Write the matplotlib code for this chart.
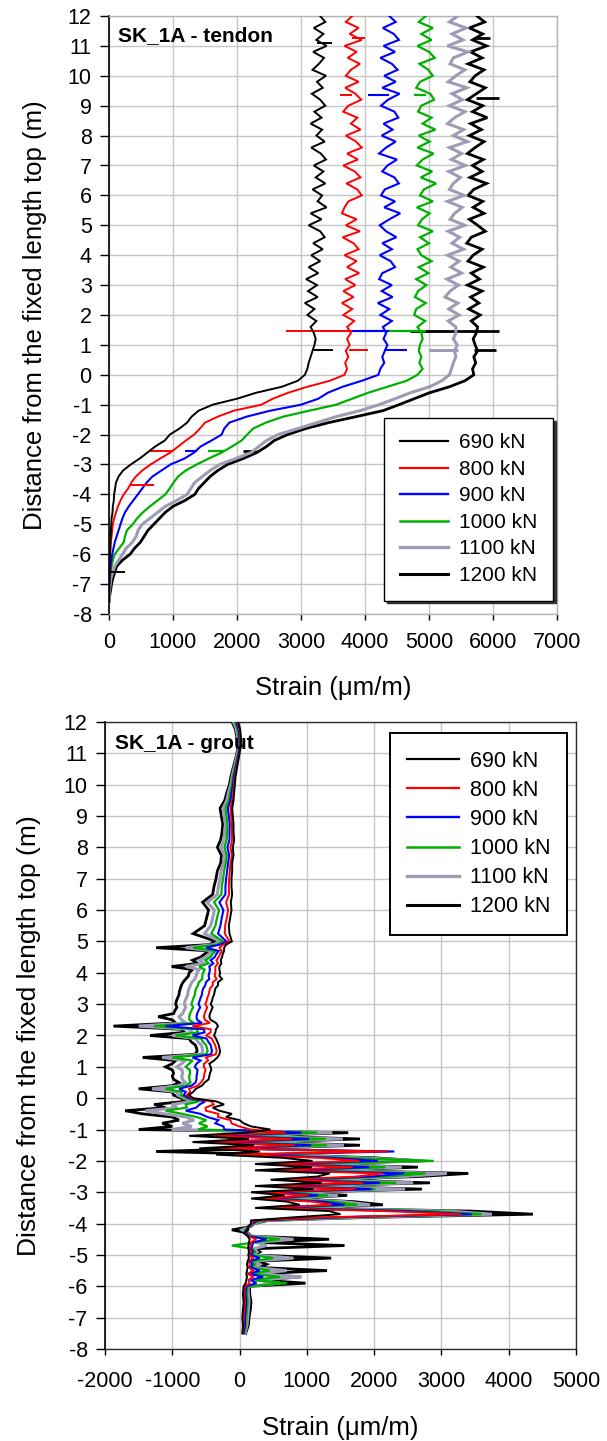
import numpy as np
import matplotlib
matplotlib.use('Agg')
import matplotlib.pyplot as plt
from matplotlib.lines import Line2D

plt.rcParams['font.family'] = ['Liberation Sans', 'DejaVu Sans']
plt.rcParams['axes.unicode_minus'] = False

loads = ['690 kN', '800 kN', '900 kN', '1000 kN', '1100 kN', '1200 kN']
colors = ['#000000', '#ff0000', '#0000ff', '#00b000', '#9c9cb4', '#000000']
widths = [1.4, 1.4, 1.5, 1.6, 2.2, 2.0]

# ---------------- tendon (top) : depth 12.0 .. -7.6 every 0.2 m ----------------
depth_tendon = np.linspace(12.0, -7.6, 99)

tendon_690 = [
    3300, 3380, 3200, 3350, 3240, 3400, 3190, 3360, 3280, 3180,
    3390, 3250, 3340, 3170, 3300, 3380, 3210, 3320, 3150, 3330,
    3240, 3370, 3160, 3310, 3390, 3200, 3350, 3230, 3380, 3180,
    3330, 3260, 3400, 3150, 3320, 3120, 3300, 3370, 3190, 3340,
    3160, 3300, 3120, 3270, 3080, 3250, 3110, 3260, 3060, 3210,
    3100, 3240, 3150,
    3200, 3230, 3210, 3180, 3150, 3120, 3100, 3060,
    2950, 2700, 2300, 2000, 1620, 1400, 1290, 1220, 1100, 950,
    870, 720, 600, 480, 340, 220, 150, 110, 95, 80,
    75, 60, 55, 40, 35, 30, 25, 20, 18, 15,
    12, 10, 8, 5, 3, 2, 0, 0]
tendon_800 = [
    3800, 3700, 3900, 3760, 3950, 3680, 3870, 3730, 3920, 3780,
    3700, 3900, 3690, 3850, 3940, 3740, 3660, 3880, 3780, 3930,
    3700, 3860, 3950, 3720, 3890, 3660, 3840, 3930, 3710, 3880,
    3950, 3740, 3680, 3640, 3870, 3700, 3920, 3650, 3820, 3900,
    3680, 3870, 3720, 3910, 3690, 3850, 3660, 3820, 3640, 3800,
    3660, 3830, 3720,
    3780, 3720, 3760, 3700, 3740, 3690, 3720, 3680,
    3450, 3100, 2800, 2560, 2380, 1950, 1700, 1500, 1420, 1330,
    1200, 1080, 960, 800, 650, 520, 420, 350, 300, 230,
    180, 140, 110, 80, 60, 50, 40, 30, 25, 18,
    12, 8, 5, 4, 2, 0, 0, 0]
tendon_900 = [
    4380, 4480, 4280, 4450, 4530, 4290, 4470, 4240, 4420, 4510,
    4300, 4480, 4270, 4540, 4360, 4250, 4460, 4520, 4290, 4430,
    4260, 4480, 4330, 4220, 4500, 4350, 4270, 4460, 4530, 4310,
    4250, 4470, 4300, 4550, 4380, 4230, 4330, 4490, 4270, 4420,
    4230, 4400, 4470, 4270, 4220, 4420, 4260, 4430, 4200, 4380,
    4240, 4420, 4280,
    4330, 4290, 4350, 4310, 4270, 4300, 4240, 4210,
    3950, 3650, 3420, 3270, 3000, 2520, 2150, 1880, 1800, 1760,
    1600, 1430, 1330, 1180, 960, 820, 680, 590, 520, 450,
    380, 310, 250, 210, 180, 150, 120, 90, 70, 50,
    35, 25, 15, 10, 5, 2, 0, 0]
tendon_1000 = [
    4950, 4840, 5060, 4880, 5040, 4820, 5000, 5090, 4850, 4990,
    5060, 4860, 4800, 5020, 5080, 4880, 4830, 5040, 4900, 5100,
    4840, 5010, 4820, 5070, 4900, 4810, 5050, 4870, 5110, 4920,
    4860, 5060, 4810, 5010, 4890, 4830, 5060, 4860, 5000, 4820,
    4880, 5040, 4840, 4990, 4800, 4960, 4830, 4780, 4950, 4800,
    4770, 4940, 4820,
    4880, 4900, 4860, 4840, 4880, 4850, 4900, 4820,
    4650, 4350, 4050, 3800, 3550, 3130, 2720, 2450, 2250, 2160,
    2070, 1920, 1760, 1560, 1370, 1200, 1080, 1010, 950, 880,
    760, 640, 530, 440, 370, 280, 250, 230, 160, 90,
    60, 40, 25, 15, 8, 3, 0, 0]
tendon_1100 = [
    5450, 5320, 5580, 5360, 5530, 5290, 5610, 5380, 5330, 5560,
    5420, 5300, 5590, 5360, 5520, 5320, 5560, 5400, 5290, 5540,
    5380, 5600, 5320, 5510, 5350, 5570, 5310, 5490, 5380, 5320,
    5550, 5290, 5520, 5400, 5330, 5560, 5300, 5480, 5360, 5540,
    5290, 5470, 5340, 5510, 5280, 5460, 5330, 5250, 5450, 5310,
    5470, 5300, 5420,
    5420, 5380, 5440, 5400, 5420, 5380, 5350, 5320,
    5200, 5010, 4710, 4470, 4220, 3920, 3550, 3250, 2950, 2640,
    2460, 2340, 2220, 1980, 1730, 1580, 1460, 1340, 1280, 1220,
    1060, 880, 760, 640, 520, 455, 425, 365, 270, 210,
    150, 90, 60, 30, 18, 8, 2, 0]
tendon_1200 = [
    5750, 5870, 5630, 5840, 5680, 5900, 5650, 5830, 5610, 5860,
    5720, 5640, 5880, 5740, 5600, 5840, 5680, 5910, 5650, 5820,
    5630, 5860, 5720, 5600, 5850, 5680, 5830, 5640, 5900, 5700,
    5610, 5840, 5690, 5860, 5630, 5760, 5880, 5660, 5590, 5830,
    5690, 5610, 5850, 5660, 5790, 5600, 5830, 5650, 5780, 5620,
    5800, 5660, 5760,
    5740, 5690, 5720, 5760, 5700, 5730, 5680, 5700,
    5560, 5320, 5010, 4770, 4530, 4280, 3860, 3430, 3070, 2790,
    2580, 2460, 2310, 2100, 1850, 1700, 1580, 1490, 1400, 1340,
    1190, 1000, 880, 790, 700, 610, 550, 490, 400, 330,
    210, 120, 90, 60, 40, 25, 10, 0]

# short horizontal spikes: (series index, depth, strain from, strain to)
tendon_spikes = [
    (1, 9.35, 3610, 3800), (2, 9.35, 4040, 4370), (3, 9.35, 4770, 4950),
    (5, 9.27, 5740, 6100), (1, 11.25, 3800, 4000), (5, 11.25, 5700, 5950),
    (0, 11.1, 3250, 3490),
    (1, 1.45, 2770, 3800), (2, 1.45, 3310, 4370), (3, 1.45, 3920, 4950),
    (5, 1.45, 4700, 6100),
    (0, 0.83, 3200, 3500), (1, 0.83, 3750, 4040), (2, 0.83, 4300, 4650),
    (4, 0.83, 5000, 5450), (5, 0.83, 5700, 6050),
    (1, -2.55, 640, 1000), (2, -2.55, 1180, 1380), (3, -2.55, 1550, 1800),
    (5, -2.55, 2100, 2300), (1, -3.7, 330, 700), (0, -6.6, 0, 250),
]

# ---------------- grout (bottom) ----------------
depth_grout = np.concatenate([np.linspace(12.0, 5.25, 28),
                              np.linspace(5.0, -6.0, 111),
                              np.linspace(-6.25, -7.5, 6)])

grout_690 = [
    -20, 10, 20, 20, 0, -20, -40, -60, -70, -80,
    -90, -110, -100, -90, -90, -80, -100, -90, -110, -110,
    -120, -120, -110, -130, -120, -140, -160, -150,
    -115, -200, -230, -230, -250, -260, -280, -270, -300, -300,
    -290, -300, -260, -320, -320, -360, -370, -380, -400, -410,
    -430, -400, -420, -440, -450, -430, -350, -320, -350, -360,
    -380, -350, -330, -310, -300, -290, -300, -330, -380, -450,
    -430, -420, -440, -450, -460, -520, -560, -650, -690, -750,
    -690, -350, -230, -400, -300, -115, -200, 0, 60, 170,
    460, 110, -750, 140, -700, 217, -600, 300, -350, 635,
    1085, 230, 1077, 230, 1340, 1155, 460, 1220, 230, 1100,
    170, 670, 170, 705, 895, 230, 1330, 1500, 800, 170,
    170, 120, 130, 60, 120, 150, 140, 130, 130, 140,
    130, 140, 120, 110, 120, 110, 100, 110, 100, 90, 60,
    50, 60, 50, 40, 50, 40]
grout_800 = [
    -35, 0, 10, 15, -5, -28, -50, -70, -82, -95,
    -110, -135, -125, -115, -115, -110, -135, -115, -135, -145,
    -155, -160, -155, -200, -170, -190, -215, -220,
    -150, -240, -300, -265, -290, -310, -345, -320, -360, -360,
    -360, -370, -340, -400, -400, -440, -450, -460, -480, -490,
    -510, -480, -500, -520, -530, -515, -440, -700, -430, -430,
    -500, -410, -390, -365, -350, -340, -355, -500, -465, -530,
    -530, -505, -520, -530, -540, -575, -625, -750, -735, -785,
    -715, -420, -385, -505, -500, -315, -320, -135, -120, -5,
    165, 690, -550, 775, -500, 820, -420, 2200, -150, 1160,
    1780, 400, 1680, 450, 2130, 1730, 620, 1840, 380, 1720,
    300, 1030, 280, 1090, 1370, 350, 2140, 3300, 1240, 220,
    180, 130, 120, 80, 130, 250, 170, 160, 150, 170,
    145, 200, 140, 150, 140, 200, 120, 200, 130, 150, 80,
    70, 80, 70, 60, 60, 50]
grout_900 = [
    -50, -15, 0, 5, -15, -38, -60, -85, -98, -120,
    -135, -175, -160, -145, -150, -150, -180, -155, -170, -185,
    -200, -210, -210, -300, -240, -265, -285, -320,
    -195, -290, -500, -310, -345, -370, -430, -390, -450, -440,
    -450, -460, -450, -500, -510, -540, -555, -560, -580, -595,
    -610, -585, -610, -630, -640, -630, -560, -1100, -530, -520,
    -700, -490, -465, -430, -420, -410, -425, -700, -580, -640,
    -665, -625, -630, -640, -640, -655, -715, -900, -800, -830,
    -750, -510, -595, -645, -800, -580, -480, -315, -360, -240,
    -225, 920, -350, 1030, -300, 1065, -240, 2300, 50, 1370,
    2055, 570, 1925, 670, 2450, 1960, 780, 2085, 530, 1965,
    430, 1170, 390, 1240, 1560, 470, 2460, 3450, 1420, 270,
    190, 140, 100, 100, 140, 400, 200, 190, 170, 200,
    160, 300, 160, 190, 160, 300, 140, 350, 160, 250, 100,
    90, 100, 90, 80, 80, 60]
grout_1000 = [
    -70, -30, -15, -2, -20, -48, -75, -100, -115, -140,
    -160, -210, -195, -180, -185, -190, -225, -190, -205, -230,
    -245, -265, -270, -380, -305, -335, -360, -420,
    -245, -340, -690, -355, -400, -435, -510, -460, -600, -520,
    -540, -555, -555, -605, -620, -645, -660, -665, -685, -700,
    -715, -690, -715, -735, -750, -745, -680, -1270, -635, -615,
    -950, -570, -545, -500, -485, -475, -500, -1000, -695, -750,
    -800, -740, -735, -750, -745, -730, -800, -1100, -860, -875,
    -790, -600, -800, -785, -1100, -845, -640, -495, -605, -475,
    -620, 1150, -150, 1280, -100, 1300, -60, 1900, 250, 1580,
    2885, 740, 2170, 890, 2765, 2190, 940, 2330, 680, 2020,
    560, 1315, 500, 1395, 1750, 590, 2830, 3600, 1600, 320,
    200, 150, 80, 110, 150, 600, 220, -115, 190, 230,
    175, 500, 180, 230, 180, 450, 160, 600, 190, 700, 120,
    110, 120, 110, 100, 95, 70]
grout_1100 = [
    -90, -45, -25, -10, -30, -58, -85, -112, -130, -165,
    -190, -245, -230, -210, -220, -230, -275, -225, -240, -275,
    -290, -315, -330, -480, -375, -400, -430, -520,
    -290, -390, -800, -400, -450, -500, -595, -530, -800, -600,
    -635, -645, -665, -710, -730, -750, -765, -770, -790, -810,
    -820, -800, -825, -845, -900, -860, -800, -1500, -740, -705,
    -1000, -650, -620, -570, -555, -545, -570, -1150, -810, -860,
    -935, -855, -845, -860, -850, -805, -890, -1300, -920, -920,
    -825, -690, -1010, -925, -1400, -1110, -800, -675, -850, -710,
    -1010, 1380, 50, 1535, 100, 1550, 120, 1600, 450, 1790,
    2760, 910, 2410, 1110, 3080, 2420, 1100, 2580, 830, 2460,
    690, 1460, 610, 1550, 1940, 710, 3100, 3750, 1780, 370,
    210, 150, 40, 120, 160, 800, 240, 400, 210, 260,
    190, 800, 200, 300, 220, 700, 200, 925, 230, 600, 130,
    130, 140, 130, 120, 110, 80]
grout_1200 = [
    -110, -60, -40, -20, -40, -70, -100, -130, -150, -190,
    -220, -290, -270, -250, -260, -280, -330, -270, -280, -330,
    -350, -380, -400, -550, -460, -490, -520, -690,
    -350, -450, -1240, -460, -520, -580, -700, -620, -1010, -700,
    -750, -760, -800, -840, -865, -880, -895, -900, -920, -940,
    -950, -930, -960, -980, -1210, -1000, -950, -1875, -870, -820,
    -1330, -750, -720, -660, -640, -630, -660, -1440, -950, -1000,
    -1100, -1000, -980, -1000, -980, -900, -1000, -1500, -1000, -980,
    -870, -800, -1270, -1100, -1700, -1440, -1000, -900, -1150, -1000,
    -1500, 1615, 250, 1790, 300, 1790, 300, -1240, 650, 2000,
    2700, 1080, 2650, 1330, 3400, 2650, 1260, 2830, 980, 2710,
    820, 1600, 720, 1700, 2130, 830, 3430, 4360, 1960, 420,
    220, 160, -115, 130, 170, 1330, 260, 1560, 230, 300,
    200, 1360, 250, 400, 300, 1300, 250, 900, 300, 980, 150,
    150, 170, 160, 140, 130, 90]

tendon = [tendon_690, tendon_800, tendon_900, tendon_1000, tendon_1100, tendon_1200]
grout = [grout_690, grout_800, grout_900, grout_1000, grout_1100, grout_1200]

W, H = 607, 1441
fig = plt.figure(figsize=(W / 100, H / 100), dpi=100)
fig.patch.set_facecolor('white')
ax1 = fig.add_axes([109 / W, 1 - 614 / H, 448 / W, 598 / H])
ax2 = fig.add_axes([105 / W, 1 - 1349 / H, 471 / W, 627 / H])


def draw(ax, depth, series, spikes):
    for k in reversed(range(6)):
        ax.plot(series[k], depth, color=colors[k], lw=widths[k],
                zorder=3 + (5 - k), solid_joinstyle='miter')
    for k, d, lo, hi in spikes:
        ax.hlines(d, lo, hi, color=colors[k], lw=widths[k], zorder=3 + (5 - k))


def style(ax, xlim, xticks, frame_col, ylabel_x, label_fs, xpad):
    ax.set_xlim(*xlim)
    ax.set_ylim(-8, 12)
    ax.set_xticks(xticks)
    ax.set_yticks(range(-8, 13))
    ax.grid(True, color='#c6c6c6', lw=1.0)
    ax.set_axisbelow(True)
    for s in ['top', 'right', 'bottom']:
        ax.spines[s].set_color(frame_col)
        ax.spines[s].set_linewidth(1.0)
    ax.spines['left'].set_color('black')
    ax.spines['left'].set_linewidth(1.2)
    ax.tick_params(axis='y', direction='out', length=6.5, width=1.0,
                   pad=6, labelsize=15.5, color='black')
    ax.tick_params(axis='x', direction='out', length=4, width=1.0,
                   pad=xpad, labelsize=15.5, color='black')
    ax.set_xlabel('Strain (\u03bcm/m)', fontsize=18.5, va='center')
    ax.set_ylabel('Distance from the fixed length top (m)', fontsize=label_fs, va='center')
    ax.yaxis.set_label_coords(ylabel_x, 0.5)


draw(ax1, depth_tendon, tendon, tendon_spikes)
style(ax1, (0, 7000), range(0, 7001, 1000), '#b4b4b4', -0.165, 18.5, 9)
ax1.xaxis.set_label_coords(0.5, -0.124)
ax1.text(0.02, 0.968, 'SK_1A - tendon', transform=ax1.transAxes,
         fontsize=15, fontweight='bold', va='center', ha='left', zorder=20)

draw(ax2, depth_grout, grout, [])
style(ax2, (-2000, 5000), range(-2000, 5001, 1000), '#303030', -0.161, 19, 12)
ax2.xaxis.set_label_coords(0.5, -0.126)
ax2.text(0.021, 0.966, 'SK_1A - grout', transform=ax2.transAxes,
         fontsize=15, fontweight='bold', va='center', ha='left', zorder=20)

handles = [Line2D([], [], color=colors[k], lw=widths[k] + 0.2) for k in range(6)]

leg1 = ax1.legend(handles, loads, loc='upper left', bbox_to_anchor=(0.614, 0.328),
                  borderaxespad=0, fontsize=15, frameon=True, fancybox=False,
                  edgecolor='black', framealpha=1, handlelength=2.3,
                  handletextpad=0.55, labelspacing=0.36, borderpad=0.75,
                  shadow={'color': '0.2', 'alpha': 1.0})
leg1.get_frame().set_linewidth(1.0)
leg1.set_zorder(30)

leg2 = ax2.legend(handles, loads, loc='upper left', bbox_to_anchor=(0.605, 0.982),
                  borderaxespad=0, fontsize=15.5, frameon=True, fancybox=False,
                  edgecolor='black', framealpha=1, handlelength=2.4,
                  handletextpad=0.5, labelspacing=0.38, borderpad=0.8)
leg2.get_frame().set_linewidth(1.4)
leg2.set_zorder(30)

fig.savefig('out.png', dpi=100, facecolor='white')
